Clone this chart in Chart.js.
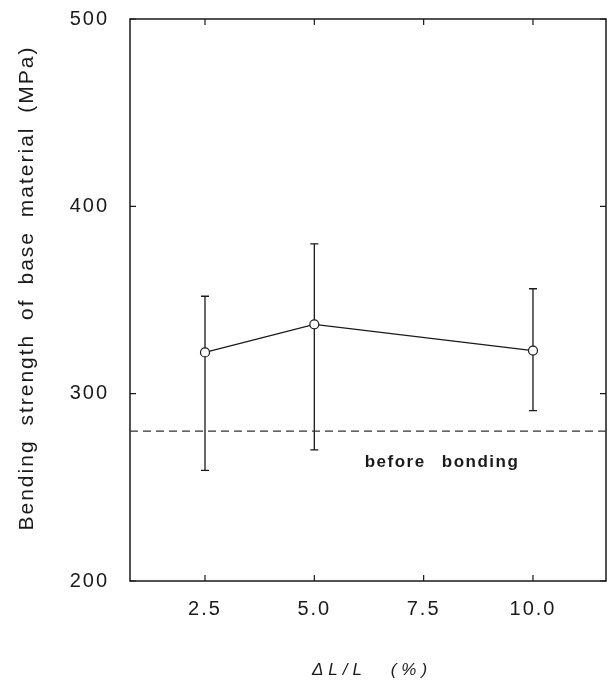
<!DOCTYPE html>
<html>
<head>
<meta charset="utf-8">
<script src="https://cdn.jsdelivr.net/npm/chart.js@4.4.1/dist/chart.umd.min.js"></script>
<style>
  html, body { margin: 0; padding: 0; background: #fff; }
  #wrap { width: 612px; height: 684px; position: relative; }
</style>
</head>
<body>
<div id="wrap"><canvas id="c" width="612" height="684"></canvas></div>
<script>
// ---- data ----
const strainPct = [2.5, 5.0, 10.0];
const strengthMean = [322, 337, 323];
const strengthUpper = [352, 380, 356];
const strengthLower = [259, 270, 291];
const beforeBonding = 280;
const xTickValues = [2.5, 5.0, 7.5, 10.0];
const xTickLabels = ['2.5', '5.0', '7.5', '10.0'];
const yTickValues = [200, 300, 400, 500];
const xMin = 0.785, xMax = 11.67;
const yMin = 200, yMax = 500;
const xTitle = 'ΔL/L (%)';
const yTitle = 'Bending strength of base material (MPa)';
const noteText = 'before bonding';
const notePos = { x: 7.92, y: 263.5 };

const FONT = "'Liberation Sans', Arial, Helvetica, sans-serif";
const INK = '#1a1a1a';

const decor = {
  id: 'decor',
  beforeDraw(chart) {
    chart.ctx.letterSpacing = '2px';
  },
  beforeDatasetsDraw(chart) {
    const ctx = chart.ctx;
    const xs = chart.scales.x, ys = chart.scales.y;
    const a = chart.chartArea;
    ctx.save();
    ctx.strokeStyle = INK;
    ctx.lineWidth = 1.5;
    ctx.strokeRect(a.left, a.top, a.right - a.left, a.bottom - a.top);
    ctx.lineWidth = 1.2;
    const tl = 6;
    ctx.beginPath();
    xTickValues.forEach(v => {
      const px = xs.getPixelForValue(v);
      ctx.moveTo(px, a.bottom); ctx.lineTo(px, a.bottom - tl);
      ctx.moveTo(px, a.top); ctx.lineTo(px, a.top + tl);
    });
    yTickValues.forEach(v => {
      const py = ys.getPixelForValue(v);
      ctx.moveTo(a.left, py); ctx.lineTo(a.left + tl, py);
      ctx.moveTo(a.right, py); ctx.lineTo(a.right - tl, py);
    });
    ctx.stroke();
    ctx.lineWidth = 1.3;
    ctx.beginPath();
    strainPct.forEach((x, i) => {
      const px = xs.getPixelForValue(x);
      const pt = ys.getPixelForValue(strengthUpper[i]);
      const pb = ys.getPixelForValue(strengthLower[i]);
      ctx.moveTo(px, pt); ctx.lineTo(px, pb);
      ctx.moveTo(px - 4, pt); ctx.lineTo(px + 4, pt);
      ctx.moveTo(px - 4, pb); ctx.lineTo(px + 4, pb);
    });
    ctx.stroke();
    ctx.restore();
  },
  afterDraw(chart) {
    const ctx = chart.ctx;
    const xs = chart.scales.x, ys = chart.scales.y;
    const a = chart.chartArea;
    ctx.save();
    ctx.fillStyle = INK;
    ctx.font = 'bold 17px ' + FONT;
    ctx.letterSpacing = '1.5px';
    ctx.wordSpacing = '10px';
    ctx.textAlign = 'center';
    ctx.textBaseline = 'middle';
    ctx.fillText(noteText, xs.getPixelForValue(notePos.x), ys.getPixelForValue(notePos.y));
    ctx.font = 'italic 17px ' + FONT;
    ctx.letterSpacing = '5px';
    ctx.wordSpacing = '14px';
    ctx.fillText(xTitle, (a.left + a.right) / 2 + 4, 670);
    ctx.translate(27, 288);
    ctx.rotate(-Math.PI / 2);
    ctx.font = '21px ' + FONT;
    ctx.letterSpacing = '2px';
    ctx.wordSpacing = '6px';
    ctx.fillText(yTitle, 0, 0);
    ctx.restore();
  }
};

new Chart(document.getElementById('c'), {
  type: 'scatter',
  data: {
    datasets: [
      {
        label: 'strength',
        data: strainPct.map((x, i) => ({ x, y: strengthMean[i] })),
        showLine: true,
        borderColor: INK,
        borderWidth: 1.3,
        pointRadius: 4.5,
        pointBackgroundColor: '#fff',
        pointBorderColor: INK,
        pointBorderWidth: 1.2,
        order: 1
      },
      {
        label: 'before bonding',
        data: [{ x: xMin, y: beforeBonding }, { x: xMax, y: beforeBonding }],
        showLine: true,
        borderColor: '#333',
        borderWidth: 1.1,
        borderDash: [8, 5],
        pointRadius: 0,
        order: 2
      }
    ]
  },
  options: {
    responsive: false,
    animation: false,
    devicePixelRatio: 1,
    layout: { padding: { left: 0, top: 19, right: 6, bottom: 0 } },
    plugins: { legend: { display: false }, tooltip: { enabled: false } },
    scales: {
      x: {
        type: 'linear',
        min: xMin, max: xMax,
        grid: { display: false, drawTicks: false },
        border: { display: false },
        afterBuildTicks: s => { s.ticks = xTickValues.map(v => ({ value: v })); },
        afterFit: s => { s.height = 103; s.paddingLeft = 0; s.paddingRight = 0; },
        ticks: {
          padding: 16,
          color: INK,
          font: { family: FONT, size: 20 },
          callback: (v) => { const i = xTickValues.indexOf(v); return i >= 0 ? xTickLabels[i] : ''; },
          maxRotation: 0, autoSkip: false
        }
      },
      y: {
        type: 'linear',
        min: yMin, max: yMax,
        grid: { display: false, drawTicks: false },
        border: { display: false },
        afterBuildTicks: s => { s.ticks = yTickValues.map(v => ({ value: v })); },
        afterFit: s => { s.width = 130; s.paddingTop = 0; s.paddingBottom = 0; },
        ticks: {
          padding: 21,
          color: INK,
          font: { family: FONT, size: 20 },
          callback: v => String(v)
        }
      }
    }
  },
  plugins: [decor]
});
</script>
</body>
</html>
